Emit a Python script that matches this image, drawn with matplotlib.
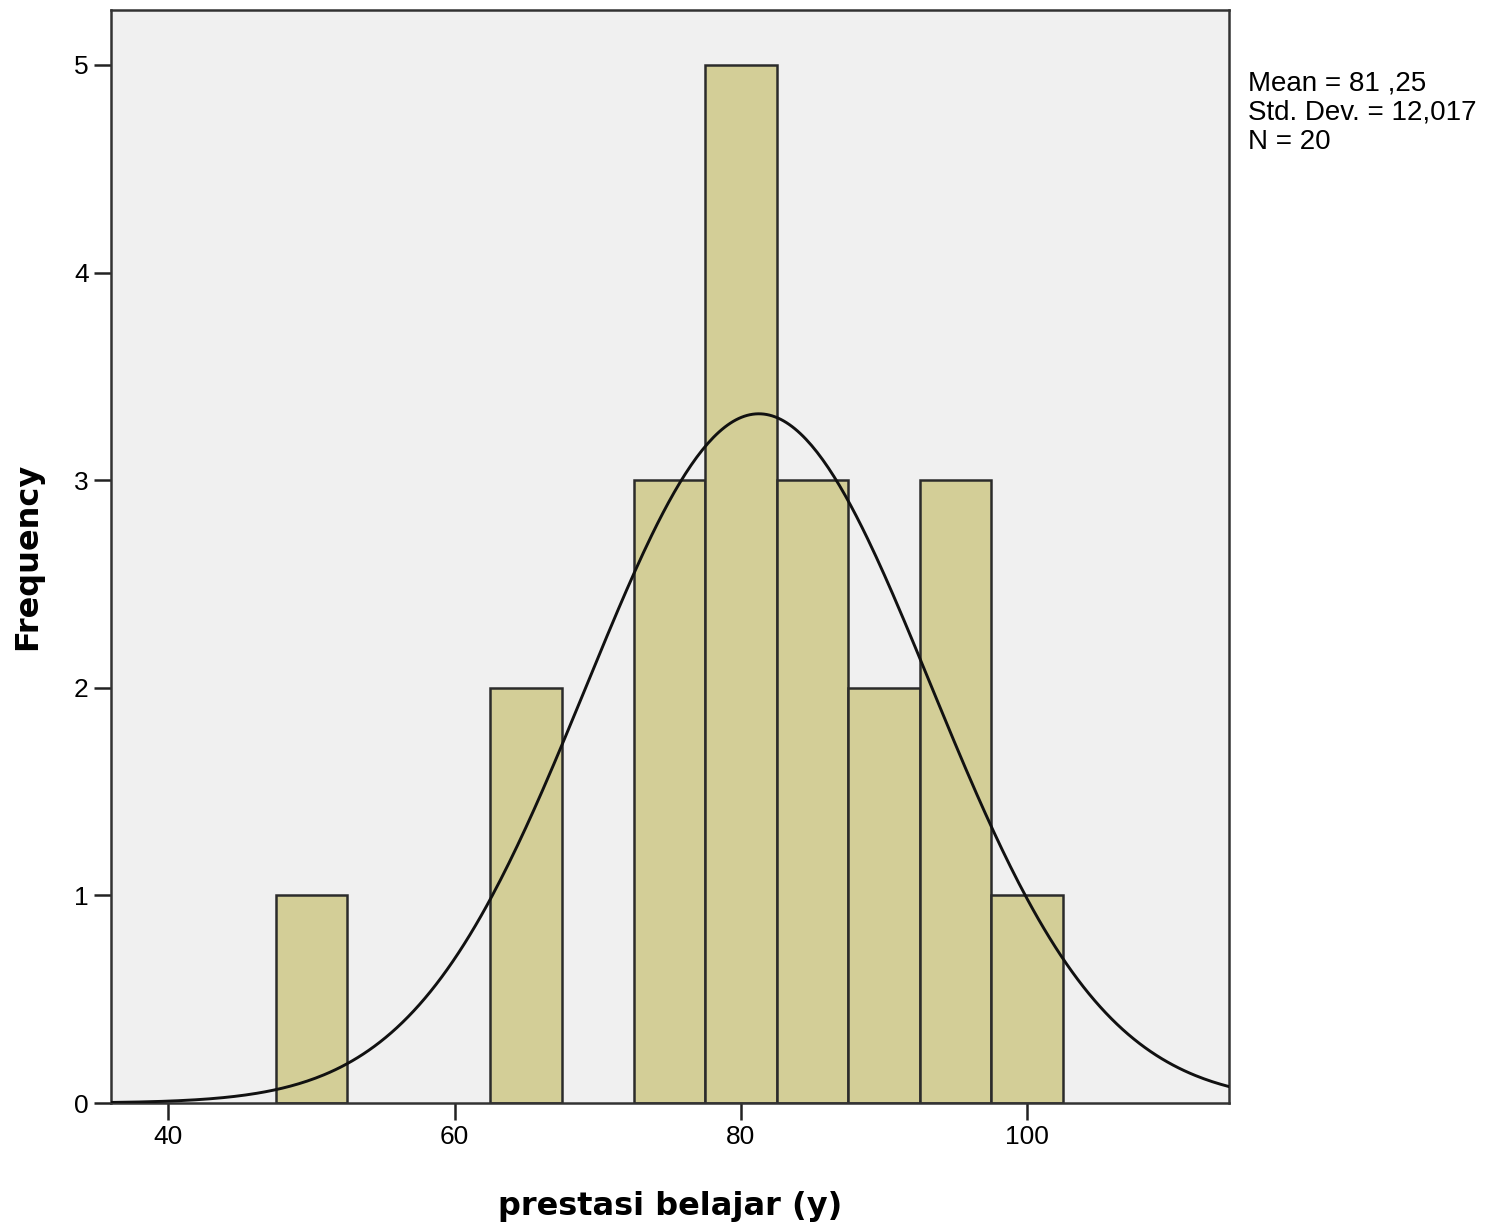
import numpy as np
import matplotlib
matplotlib.use('Agg')
import matplotlib.pyplot as plt

# histogram bins (centre of each 5-wide bin) and frequencies
bin_centers = [50, 65, 75, 80, 85, 90, 95, 100]
counts = [1, 2, 3, 5, 3, 2, 3, 1]
bin_width = 5

mean = 81.25
std_dev = 12.017
n = 20

x_ticks = [40, 60, 80, 100]
y_ticks = [0, 1, 2, 3, 4, 5]

fig = plt.figure(figsize=(14.97, 12.29), dpi=100)
ax = fig.add_axes([0.0742, 0.1025, 0.7468, 0.8894])
ax.set_facecolor('#F0F0F0')

ax.bar(bin_centers, counts, width=bin_width, color='#D3CE97',
       edgecolor='#2b2b2b', linewidth=1.8, zorder=2)

# normal curve scaled to counts
xs = np.linspace(36.0, 114.1, 400)
ys = n * bin_width * np.exp(-0.5 * ((xs - mean) / std_dev) ** 2) / (std_dev * np.sqrt(2 * np.pi))
ax.plot(xs, ys, color='#111111', linewidth=2.1, zorder=3)

ax.set_xlim(36.0, 114.1)
ax.set_ylim(0, 5.265)
ax.set_xticks(x_ticks)
ax.set_yticks(y_ticks)

for s in ax.spines.values():
    s.set_color('#333333')
    s.set_linewidth(1.8)

ax.tick_params(direction='out', length=12, width=1.8, color='#222222',
               labelsize=19, pad=4)
for lab in ax.get_xticklabels() + ax.get_yticklabels():
    lab.set_fontfamily('Liberation Sans')

ax.set_xlabel('prestasi belajar (y)', fontsize=23, fontweight='bold', labelpad=30)
ax.set_ylabel('Frequency', fontsize=23, fontweight='bold', labelpad=22)

stats = f"Mean = 81 ,25\nStd. Dev. = 12,017\nN = {n}"
fig.text(1248 / 1497, 1 - 70 / 1229, stats, fontsize=20, family='Liberation Sans',
         va='top', ha='left', linespacing=1.17)

fig.savefig('out.png', dpi=100)
